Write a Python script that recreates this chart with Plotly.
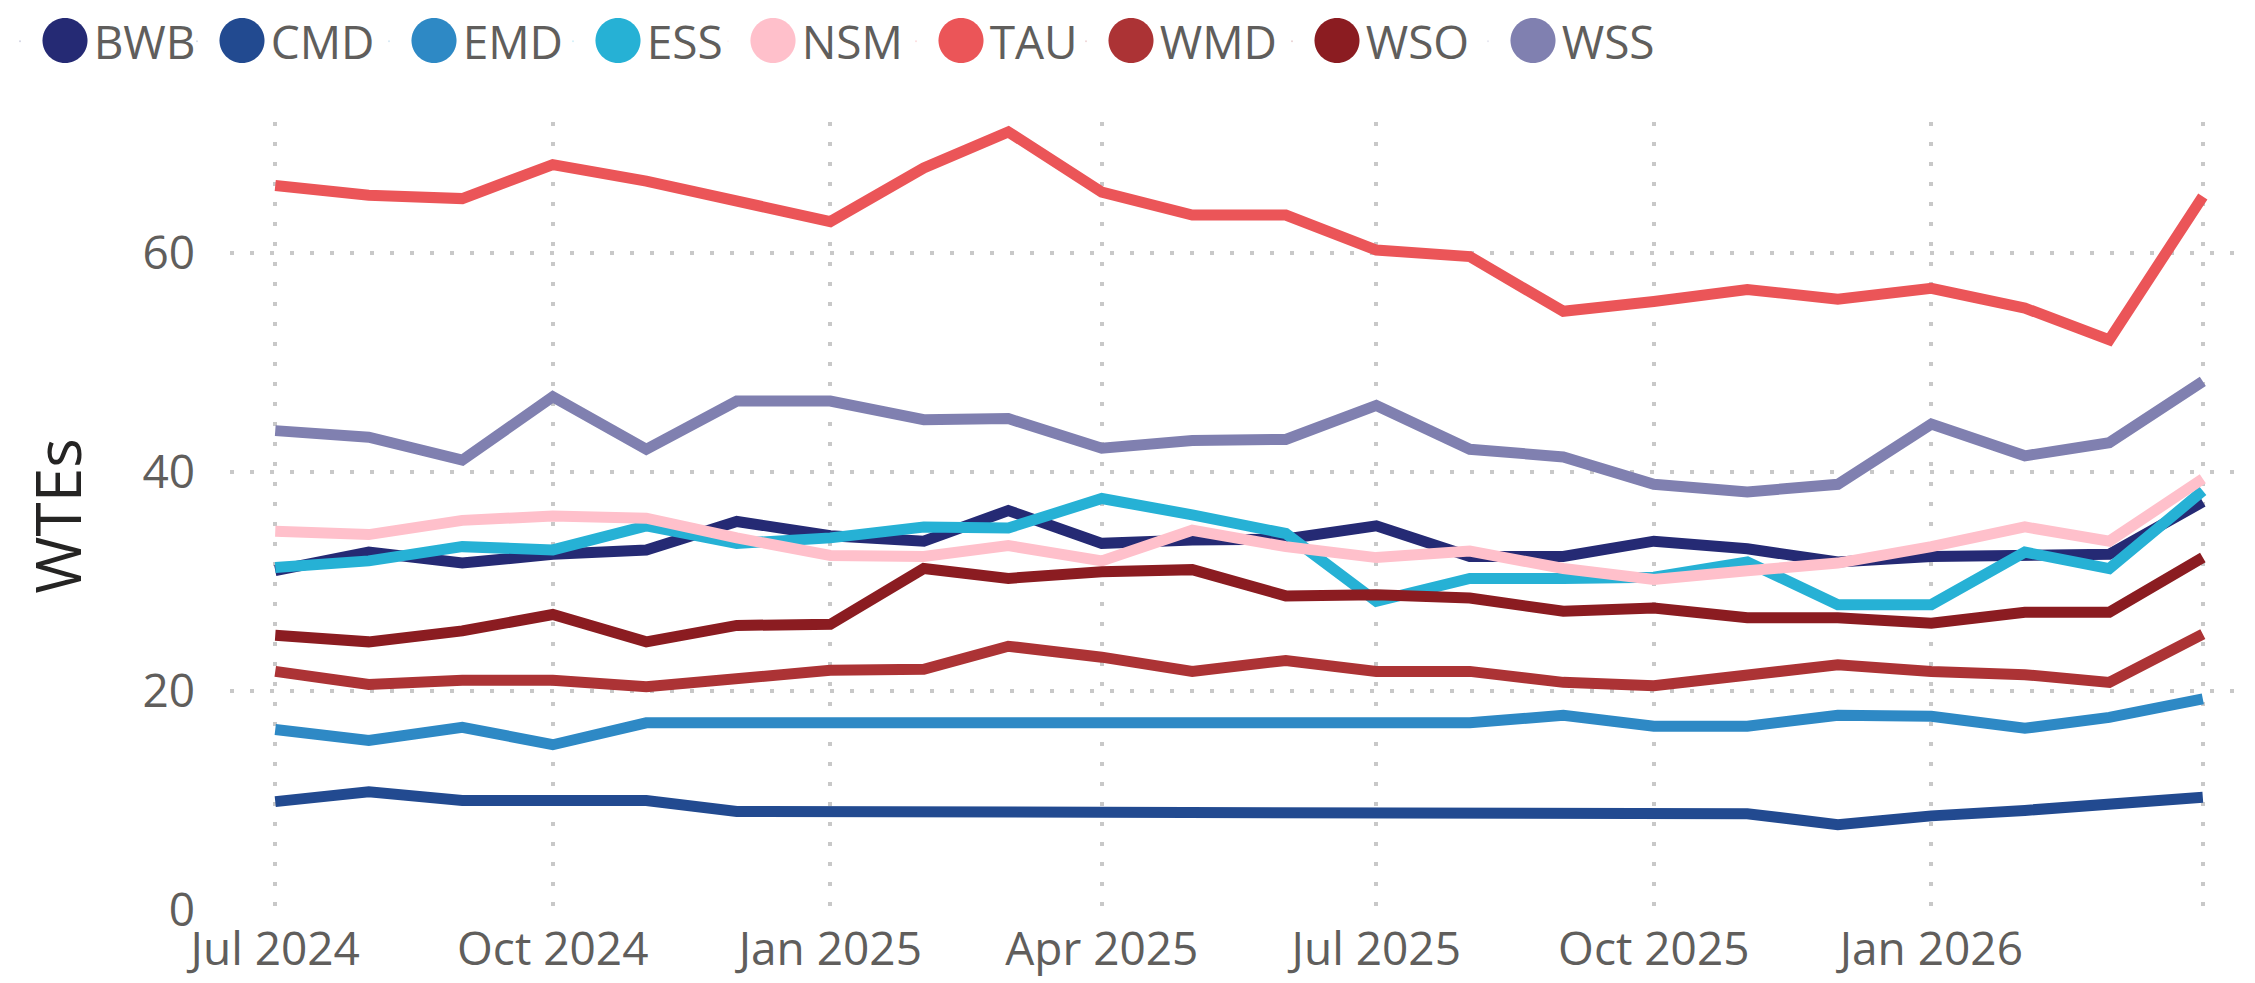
import plotly.graph_objects as go

months = ["2024-07-01", "2024-08-01", "2024-09-01", "2024-10-01", "2024-11-01", "2024-12-01",
          "2025-01-01", "2025-02-01", "2025-03-01", "2025-04-01", "2025-05-01", "2025-06-01",
          "2025-07-01", "2025-08-01", "2025-09-01", "2025-10-01", "2025-11-01", "2025-12-01",
          "2026-01-01", "2026-02-01", "2026-03-01", "2026-04-01"]

BWB = [31.0, 32.7, 31.7, 32.5, 32.9, 35.5, 34.2, 33.7, 36.5, 33.5, 33.8, 33.9, 35.1, 32.3, 32.3, 33.7, 33.0, 31.8, 32.3, 32.3, 32.5, 37.3]
CMD = [9.9, 10.8, 10.0, 10.0, 10.0, 9.0, 9.0, 9.0, 9.0, 9.0, 9.0, 8.8, 8.8, 8.8, 8.8, 8.8, 8.8, 7.8, 8.6, 9.1, 9.6, 10.3]
EMD = [16.5, 15.5, 16.7, 15.1, 17.1, 17.1, 17.1, 16.9, 16.9, 16.9, 16.9, 16.9, 17.1, 17.1, 17.8, 16.8, 16.8, 17.8, 17.7, 16.6, 17.6, 19.3]
ESS = [31.3, 31.9, 33.2, 32.9, 35.1, 33.5, 34.0, 35.0, 34.9, 37.6, 36.1, 34.4, 28.2, 30.3, 30.3, 30.4, 31.8, 27.9, 27.9, 32.7, 31.2, 38.3]
NSM = [34.6, 34.3, 35.6, 36.0, 35.8, 34.0, 32.4, 32.3, 33.3, 31.9, 34.7, 33.2, 32.2, 32.8, 31.2, 30.2, 31.0, 31.7, 33.2, 35.0, 33.7, 39.4]
TAU = [66.2, 65.3, 65.0, 68.1, 66.6, 64.8, 62.9, 67.8, 71.1, 65.6, 63.5, 63.5, 60.3, 59.7, 54.7, 55.6, 56.7, 55.8, 56.8, 55.0, 52.1, 65.2]
WMD = [21.8, 20.6, 21.0, 21.0, 20.4, 21.1, 21.9, 22.0, 24.1, 23.1, 21.8, 22.8, 21.8, 21.8, 20.8, 20.5, 21.4, 22.4, 21.8, 21.5, 20.8, 25.2]
WSO = [25.1, 24.5, 25.5, 27.0, 24.5, 26.0, 26.1, 31.2, 30.3, 30.9, 31.1, 28.7, 28.8, 28.5, 27.3, 27.6, 26.7, 26.7, 26.2, 27.2, 27.2, 32.2]
WSS = [43.8, 43.2, 41.1, 46.9, 42.1, 46.5, 46.5, 44.8, 44.9, 42.2, 42.9, 43.0, 46.1, 42.1, 41.4, 38.9, 38.2, 38.9, 44.4, 41.5, 42.7, 48.3]

series_names = ["BWB", "CMD", "EMD", "ESS", "NSM", "TAU", "WMD", "WSO", "WSS"]
series_values = [BWB, CMD, EMD, ESS, NSM, TAU, WMD, WSO, WSS]
colors = ["#252A74", "#224A90", "#2E89C5", "#26B1D5", "#FFC0CB", "#EB5558", "#AC3335", "#8B1C21", "#8080B0"]

# legend entry widths (px) so the legend spacing follows the original
legend_entry_widths = [132, 147, 139, 110, 143, 125, 161, 151, 150]

FONT = "Segoe UI, Open Sans, sans-serif"
GRID = "#C8C8C8"

fig = go.Figure()
for name, vals, col in zip(series_names, series_values, colors):
    fig.add_trace(go.Scatter(x=months, y=vals, mode="lines", name=name,
                             line=dict(color=col, width=11), showlegend=False,
                             cliponaxis=False))

# legend entries (coloured dot + name)
for name, col, lw in zip(series_names, colors, legend_entry_widths):
    fig.add_trace(go.Scatter(x=[None], y=[None], mode="markers",
                             marker=dict(size=1, opacity=0, color=col),
                             name=(f"<span style='color:{col};font-family:Noto Sans CJK SC;font-size:50px'>●</span>"
                                   f"<span style='font-size:22px'>&#8201;</span>{name}"),
                             legendwidth=lw,
                             showlegend=True, hoverinfo="skip"))

fig.update_layout(
    width=2255, height=983,
    margin=dict(l=230, r=19, t=122, b=73),
    paper_bgcolor="white", plot_bgcolor="white",
    font=dict(family=FONT, color="#605E5C"),
    legend=dict(orientation="h", xref="container", yref="container",
                x=-0.0110, xanchor="left", y=0.958, yanchor="middle",
                font=dict(size=46, color="#605E5C", family=FONT),
                itemwidth=30, tracegroupgap=0, bgcolor="rgba(0,0,0,0)"),
    xaxis=dict(type="date", range=["2024-06-16", "2026-04-12"],
               tick0="2024-07-01", dtick="M3", tickformat="%b %Y",
               showgrid=True, gridcolor=GRID, gridwidth=4, griddash="4px,16px",
               showline=False, zeroline=False, ticks="", automargin=False,
               ticklabelstandoff=8,
               tickfont=dict(size=46, color="#605E5C", family=FONT)),
    yaxis=dict(range=[0, 72], tickvals=[0, 20, 40, 60],
               showgrid=True, gridcolor=GRID, gridwidth=4, griddash="4px,16px",
               showline=False, zeroline=False, ticks="", automargin=False,
               ticklabelstandoff=34,
               tickfont=dict(size=46, color="#605E5C", family=FONT),
               title=dict(text="WTEs", font=dict(size=62, color="#252423", family=FONT), standoff=40)),
)

fig.write_html("out.html", config={"displayModeBar": False},
               post_script="document.body.style.margin='0';")
